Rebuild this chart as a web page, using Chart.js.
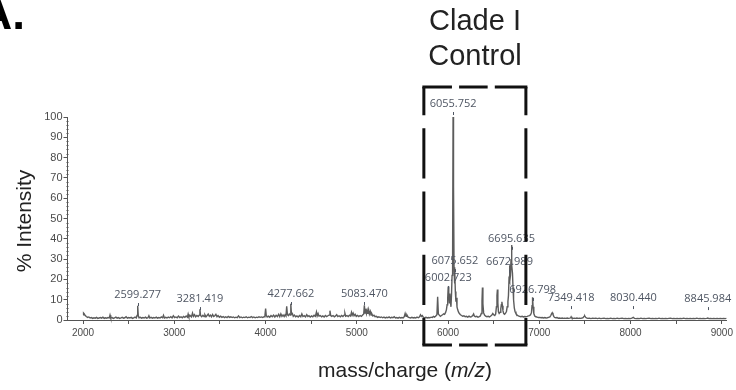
<!DOCTYPE html>
<html>
<head>
<meta charset="utf-8">
<script src="https://cdn.jsdelivr.net/npm/chart.js@4"></script>
<style>
  html, body { margin: 0; padding: 0; background: #fff; }
  #wrap { width: 736px; height: 390px; }
</style>
</head>
<body>
<div id="wrap"><canvas id="chart" width="736" height="390"></canvas></div>
<script>
/** Spectrum: [m/z, % intensity]. */
const spectrum = [
  [2000,2.6],[2006,3.4],[2014,3.0],[2024,2.2],[2036,1.7],[2050,1.3],[2064,1.5],[2078,1.0],[2092,1.2],[2106,0.8],
  [2120,1.1],[2134,0.9],[2148,1.3],[2162,0.8],[2176,1.0],[2190,1.2],[2204,0.9],[2218,1.4],[2232,0.8],[2246,1.1],
  [2260,0.9],[2274,1.2],[2288,1.0],[2296,2.4],[2304,1.0],[2318,1.2],[2332,0.8],[2346,1.1],[2360,1.4],[2374,0.9],
  [2388,1.2],[2402,0.8],[2416,1.0],[2430,1.3],[2444,0.9],[2458,1.1],[2472,1.6],[2486,0.9],[2500,1.2],[2514,1.0],
  [2528,1.3],[2542,0.8],[2556,1.1],[2570,1.4],[2584,1.0],[2592,2.2],[2599,7.0],[2606,2.0],[2614,1.1],
  [2628,1.3],[2642,0.9],[2656,1.2],[2670,1.0],[2684,1.4],[2698,0.9],[2712,1.1],[2722,2.1],[2732,1.0],[2746,1.3],
  [2760,0.9],[2774,1.2],[2788,1.0],[2802,1.4],[2816,0.9],[2830,1.2],[2844,1.0],[2858,1.5],[2872,1.1],[2882,2.3],
  [2892,1.0],[2906,1.3],[2920,1.0],[2934,1.4],[2948,1.1],[2962,1.6],[2976,1.0],[2990,2.1],[3004,1.2],[3018,1.5],
  [3032,1.1],[3046,1.9],[3060,1.2],[3074,1.6],[3088,1.1],[3102,1.8],[3116,1.3],[3130,2.0],[3144,1.4],[3152,2.9],
  [3160,1.6],[3174,2.2],[3188,1.5],[3200,3.4],[3210,1.8],[3222,2.6],[3234,1.6],[3248,2.2],[3262,1.7],[3274,2.4],
  [3281,5.3],[3288,2.2],[3300,1.6],[3314,2.3],[3326,1.7],[3336,2.6],[3348,1.6],[3360,2.2],[3372,2.9],[3384,1.8],
  [3396,2.4],[3408,1.6],[3420,2.7],[3432,1.7],[3444,2.1],[3456,2.8],[3468,1.6],[3480,2.2],[3494,1.4],[3508,1.9],
  [3522,1.3],[3536,1.7],[3550,1.2],[3564,1.6],[3578,1.2],[3592,1.8],[3606,1.3],[3620,1.6],[3634,1.2],[3648,1.5],
  [3662,1.1],[3676,1.4],[3690,1.2],[3704,2.0],[3718,1.2],[3732,1.5],[3746,1.1],[3760,1.4],[3774,1.2],[3788,1.6],
  [3802,1.1],[3816,1.4],[3830,1.2],[3844,1.7],[3858,1.2],[3872,1.5],[3886,1.1],[3900,1.4],[3914,1.2],[3928,1.6],
  [3942,1.3],[3956,1.5],[3970,1.2],[3984,1.6],[3994,2.4],[4001,5.6],[4008,2.2],[4018,1.5],
  [4032,1.9],[4046,1.4],[4060,2.2],[4074,1.6],[4088,2.4],[4102,1.5],[4116,2.3],[4130,1.7],[4144,2.8],[4156,1.6],
  [4168,3.0],[4180,1.8],[4192,2.5],[4204,1.7],[4214,2.6],[4224,2.0],[4232,6.8],[4240,2.6],[4250,2.2],[4260,3.0],
  [4270,2.4],[4277,8.0],[4284,2.8],[4294,3.2],[4304,1.8],[4316,2.4],[4330,1.6],[4344,2.0],[4358,1.5],[4372,2.2],
  [4386,1.6],[4398,3.0],[4410,1.7],[4424,2.1],[4438,1.5],[4452,2.6],[4464,1.7],[4476,2.1],[4490,1.5],[4504,2.0],
  [4518,1.6],[4532,2.3],[4546,1.8],[4558,3.9],[4566,2.0],[4576,3.2],[4586,1.9],[4600,2.2],[4614,1.6],[4628,2.0],
  [4642,1.5],[4656,2.2],[4670,1.7],[4684,2.1],[4696,2.4],[4706,4.6],[4714,2.2],[4726,1.8],[4740,2.2],[4754,1.6],
  [4768,2.0],[4780,2.6],[4792,1.7],[4806,2.1],[4820,1.6],[4834,2.2],[4848,1.7],[4862,2.4],[4870,3.3],[4878,1.9],
  [4892,2.2],[4906,1.7],[4920,2.4],[4932,2.0],[4942,3.8],[4950,2.4],[4960,3.4],[4970,2.1],[4982,2.8],[4994,1.8],
  [5008,2.3],[5022,1.7],[5036,2.2],[5050,1.8],[5064,2.5],[5076,3.0],[5083,7.2],[5090,3.4],[5098,5.6],[5106,3.2],
  [5114,4.8],[5122,3.0],[5130,5.0],[5138,2.9],[5148,4.2],[5156,2.5],[5166,3.0],[5176,2.0],[5188,2.4],[5200,1.6],
  [5214,1.8],[5228,1.3],[5242,1.6],[5256,1.2],[5270,1.5],[5284,1.1],[5298,1.4],[5312,1.0],[5326,1.3],[5340,1.1],
  [5354,1.5],[5368,1.0],[5382,1.3],[5396,1.1],[5410,1.6],[5424,1.0],[5438,1.2],[5452,0.9],[5466,1.3],[5480,1.0],
  [5494,1.2],[5508,1.0],[5520,1.6],[5530,3.2],[5540,1.8],[5550,2.4],[5562,1.4],[5576,1.2],[5590,1.0],[5604,1.3],
  [5618,1.0],[5632,1.2],[5646,1.0],[5660,1.4],[5674,1.1],[5688,1.6],[5698,2.6],[5708,1.8],[5718,2.2],[5730,1.3],
  [5744,1.1],[5758,1.3],[5772,1.0],[5786,1.2],[5800,1.1],[5814,1.4],[5828,1.2],[5840,1.8],[5852,1.4],[5866,2.0],
  [5878,2.6],[5886,11.5],[5894,3.0],[5904,2.4],[5916,1.8],[5928,2.2],[5940,2.6],[5952,3.0],[5962,2.8],[5972,3.6],
  [5982,5.0],[5990,7.5],[5996,10.5],[6002,16.5],[6008,12.0],[6014,8.5],[6020,13.0],[6026,9.0],[6032,6.5],[6038,12.5],
  [6044,22.0],[6050,30.0],[6055,100],[6058,45.0],[6062,66.0],[6066,24.0],[6070,18.0],[6075,26.0],[6080,14.0],[6086,9.0],
  [6092,11.0],[6098,6.5],[6106,5.0],[6114,4.0],[6124,3.2],[6136,2.6],[6148,2.2],[6160,1.9],[6174,2.1],[6188,1.6],
  [6202,1.8],[6216,1.4],[6230,1.9],[6244,1.5],[6258,1.7],[6270,2.2],[6280,3.0],[6288,2.0],[6300,1.6],[6314,1.8],
  [6328,1.4],[6342,1.7],[6354,2.0],[6364,3.2],[6372,9.5],[6377,16.0],[6382,8.0],[6390,3.5],[6400,2.4],[6412,1.9],
  [6426,1.6],[6440,1.8],[6454,1.5],[6468,2.0],[6480,2.4],[6490,3.2],[6500,2.6],[6512,2.2],[6522,3.0],[6530,6.5],
  [6536,12.0],[6541,15.0],[6546,8.5],[6552,4.0],[6560,3.2],[6570,3.8],[6578,5.5],[6584,7.5],[6590,9.0],[6596,7.0],
  [6602,4.5],[6610,3.2],[6620,2.8],[6630,3.4],[6640,4.2],[6648,6.5],[6656,9.0],[6662,12.0],[6668,20.0],[6673,27.0],
  [6678,19.0],[6684,22.0],[6690,30.0],[6695,37.0],[6700,27.0],[6706,23.0],[6712,16.0],[6718,10.0],[6726,6.0],[6734,4.2],
  [6744,3.2],[6756,2.5],[6770,2.0],[6784,1.8],[6798,1.6],[6812,1.8],[6826,1.5],[6840,1.7],[6854,1.6],[6868,1.8],
  [6880,2.0],[6892,2.2],[6904,2.6],[6914,3.6],[6920,7.0],[6926,11.2],[6932,6.5],[6940,3.2],[6950,2.0],[6962,1.6],
  [6976,1.4],[6990,1.2],[7004,1.3],[7018,1.1],[7032,1.2],[7046,1.0],[7060,1.2],[7074,1.0],[7088,1.1],[7102,1.3],
  [7116,1.5],[7126,2.2],[7134,3.0],[7142,3.6],[7150,2.8],[7158,1.8],[7168,1.3],[7180,1.1],[7194,1.2],[7208,0.9],
  [7222,1.0],[7236,0.8],[7250,1.0],[7264,0.8],[7278,0.9],[7292,0.8],[7306,1.0],[7320,0.8],[7334,0.9],[7344,1.1],
  [7349,1.6],[7356,1.0],[7370,0.8],[7384,0.9],[7398,0.8],[7412,1.0],[7426,0.8],[7440,0.9],[7454,0.8],[7468,1.0],
  [7480,1.2],[7490,1.8],[7498,2.0],[7506,1.4],[7516,1.0],[7530,0.8],[7548,0.9],[7566,0.7],[7584,0.9],[7602,0.8],
  [7620,0.9],[7638,0.7],[7656,0.9],[7674,0.7],[7692,0.8],[7710,0.9],[7728,0.7],[7746,0.8],[7764,0.7],[7782,0.9],
  [7800,0.7],[7818,0.8],[7836,0.7],[7854,0.9],[7872,0.7],[7890,0.8],[7908,0.9],[7926,0.7],[7944,0.8],[7962,0.7],
  [7980,0.8],[7998,0.7],[8014,0.9],[8030,1.3],[8042,0.8],[8060,0.7],[8078,0.8],[8096,0.7],[8114,0.9],[8132,0.7],
  [8150,0.8],[8168,0.7],[8186,0.8],[8204,0.9],[8222,0.7],[8240,0.8],[8258,0.7],[8276,0.8],[8294,0.7],[8312,0.9],
  [8330,0.7],[8348,0.8],[8366,0.7],[8384,0.8],[8402,0.7],[8420,0.8],[8438,0.9],[8456,0.7],[8474,0.8],[8492,0.7],
  [8510,0.8],[8528,0.7],[8546,0.8],[8564,0.7],[8582,0.9],[8600,0.7],[8618,0.8],[8636,0.7],[8654,0.8],[8672,0.7],
  [8690,0.8],[8708,0.7],[8726,0.9],[8744,0.7],[8762,0.8],[8780,0.7],[8798,0.8],[8816,0.7],[8834,0.8],[8846,1.0],
  [8858,0.7],[8876,0.8],[8894,0.7],[8912,0.8],[8930,0.7],[8948,0.8],[8966,0.7],[8984,0.8],[9002,0.7],[9020,0.8],
  [9038,0.7],[9050,0.8]
];

/** Annotated peaks and the height (% intensity) their text sits at. */
const peakLabels = ['2599.277', '3281.419', '4277.662', '5083.470', '6002.723', '6055.752', '6075.652',
  '6672.989', '6695.635', '6926.798', '7349.418', '8030.440', '8845.984'];
const peakLabelLevels = [12.3, 10.3, 12.8, 12.8, 20.7, 106.4, 29.0, 28.6, 40.0, 14.8, 10.8, 10.8, 10.3];

/** Axis ticks. */
const xTickValues = [2000, 2500, 3000, 3500, 4000, 4500, 5000, 5500, 6000, 6500, 7000, 7500, 8000, 8500, 9000];
const yTickValues = [0, 10, 20, 30, 40, 50, 60, 70, 80, 90, 100];
const yMinorTicks = [2, 4, 6, 8, 12, 14, 16, 18, 22, 24, 26, 28, 32, 34, 36, 38, 42, 44, 46, 48,
  52, 54, 56, 58, 62, 64, 66, 68, 72, 74, 76, 78, 82, 84, 86, 88, 92, 94, 96, 98];

/** Dashed "Clade I Control" box, in data units. */
const boxMz = [5735, 6853];
const boxLevel = [-12.3, 114.8];

Chart.defaults.font.family = "'Liberation Sans', Arial, sans-serif";

/** Stroke one side of the box with its own dash run. */
const dashedSide = (ctx, x0, y0, x1, y1, dash) => {
  ctx.setLineDash(dash);
  ctx.beginPath();
  ctx.moveTo(x0, y0);
  ctx.lineTo(x1, y1);
  ctx.stroke();
};

/** Extra drawing: titles, peak labels, box. */
const decorations = {
  id: 'decorations',
  afterDraw(chart) {
    const { ctx, scales: { x, y } } = chart;
    ctx.save();

    /** Minor ticks on the y axis. */
    ctx.strokeStyle = '#555';
    ctx.lineWidth = 1;
    const axisX = Math.round(x.left) + 0.5;
    yMinorTicks.forEach((v) => {
      const py = Math.round(y.getPixelForValue(v)) + 0.5;
      ctx.beginPath();
      ctx.moveTo(axisX - 2, py);
      ctx.lineTo(axisX, py);
      ctx.stroke();
    });

    /** Peak labels with a small tick under each. */
    ctx.font = "11px 'Open Sans', sans-serif";
    ctx.fillStyle = '#4f5663';
    ctx.strokeStyle = '#4f5663';
    ctx.textAlign = 'center';
    ctx.textBaseline = 'middle';
    peakLabels.forEach((label, i) => {
      const px = x.getPixelForValue(parseFloat(label));
      const py = y.getPixelForValue(peakLabelLevels[i]);
      ctx.fillText(label, px, py);
      ctx.beginPath();
      ctx.moveTo(Math.round(px) + 0.5, py + 8);
      ctx.lineTo(Math.round(px) + 0.5, py + 11);
      ctx.stroke();
    });

    /** Dashed box, one side at a time so the corners stay solid. */
    const left = x.getPixelForValue(boxMz[0]);
    const right = x.getPixelForValue(boxMz[1]);
    const top = y.getPixelForValue(boxLevel[1]);
    const bottom = y.getPixelForValue(boxLevel[0]);
    const h = bottom - top;
    const w = right - left;
    const vDash = [h * 0.11, h * 0.05, h * 0.195, h * 0.05, h * 0.195, h * 0.05, h * 0.195, h * 0.05, h];
    const hDash = [w * 0.29, w * 0.07, w * 0.28, w * 0.07, w];
    ctx.strokeStyle = '#111';
    ctx.lineWidth = 3;
    ctx.lineCap = 'butt';
    dashedSide(ctx, left - 1.5, top, right + 1.5, top, hDash);
    dashedSide(ctx, left - 1.5, bottom, right + 1.5, bottom, hDash);
    dashedSide(ctx, left, top, left, bottom, vDash);
    dashedSide(ctx, right, top, right, bottom, vDash);
    ctx.setLineDash([]);

    /** Panel letter and box caption. */
    ctx.fillStyle = '#000';
    ctx.textAlign = 'left';
    ctx.textBaseline = 'alphabetic';
    ctx.font = "bold 46px 'Liberation Sans', Arial, sans-serif";
    ctx.fillText('A.', -21, 29);

    ctx.fillStyle = '#222';
    ctx.textAlign = 'center';
    ctx.font = "29px 'Liberation Sans', Arial, sans-serif";
    ctx.fillText('Clade I', 475, 30);
    ctx.fillText('Control', 475, 65);

    /** Y title. */
    ctx.save();
    ctx.translate(31, 221);
    ctx.rotate(-Math.PI / 2);
    ctx.font = "21px 'Liberation Sans', Arial, sans-serif";
    ctx.fillText('% Intensity', 0, 0);
    ctx.restore();

    /** X title with italic m/z. */
    const parts = [['mass/charge (', ''], ['m/z', 'italic '], [')', '']];
    const size = 21;
    let total = 0;
    parts.forEach(([t, s]) => {
      ctx.font = s + size + "px 'Liberation Sans', Arial, sans-serif";
      total += ctx.measureText(t).width;
    });
    let cx = 405 - total / 2;
    ctx.textAlign = 'left';
    parts.forEach(([t, s]) => {
      ctx.font = s + size + "px 'Liberation Sans', Arial, sans-serif";
      ctx.fillText(t, cx, 377);
      cx += ctx.measureText(t).width;
    });

    ctx.restore();
  },
};

const config = {
  type: 'scatter',
  data: {
    datasets: [
      {
        label: 'Spectrum',
        data: spectrum.map(([mz, v]) => ({ x: mz, y: v })),
        showLine: true,
        pointRadius: 0,
        borderColor: '#5c5c5c',
        borderWidth: 1.4,
        clip: false,
      },
    ],
  },
  options: {
    responsive: false,
    animation: false,
    layout: { padding: { top: 117, left: 37.5, right: 8.4, bottom: 50 } },
    plugins: { legend: { display: false }, tooltip: { enabled: false } },
    scales: {
      x: {
        type: 'linear',
        min: 1830,
        max: 9050,
        afterBuildTicks: (scale) => {
          scale.ticks = xTickValues.map((v) => ({ value: v }));
        },
        afterFit: (scale) => {
          scale.height = 20;
        },
        ticks: {
          autoSkip: false,
          maxRotation: 0,
          padding: 3,
          color: '#4a4a4a',
          font: { size: 10 },
          callback: (v) => (v % 1000 === 0 ? String(v) : ''),
        },
        grid: { drawOnChartArea: false, tickLength: 4, tickColor: '#555' },
        border: { color: '#555' },
      },
      y: {
        type: 'linear',
        min: 0,
        max: 100,
        afterBuildTicks: (scale) => {
          scale.ticks = yTickValues.map((v) => ({ value: v }));
        },
        afterFit: (scale) => {
          scale.width = 30;
        },
        ticks: { padding: 1, color: '#4a4a4a', font: { size: 11 } },
        grid: { drawOnChartArea: false, tickLength: 4, tickColor: '#555' },
        border: { color: '#555' },
      },
    },
  },
  plugins: [decorations],
};

new Chart(document.getElementById('chart').getContext('2d'), config);
</script>
</body>
</html>
